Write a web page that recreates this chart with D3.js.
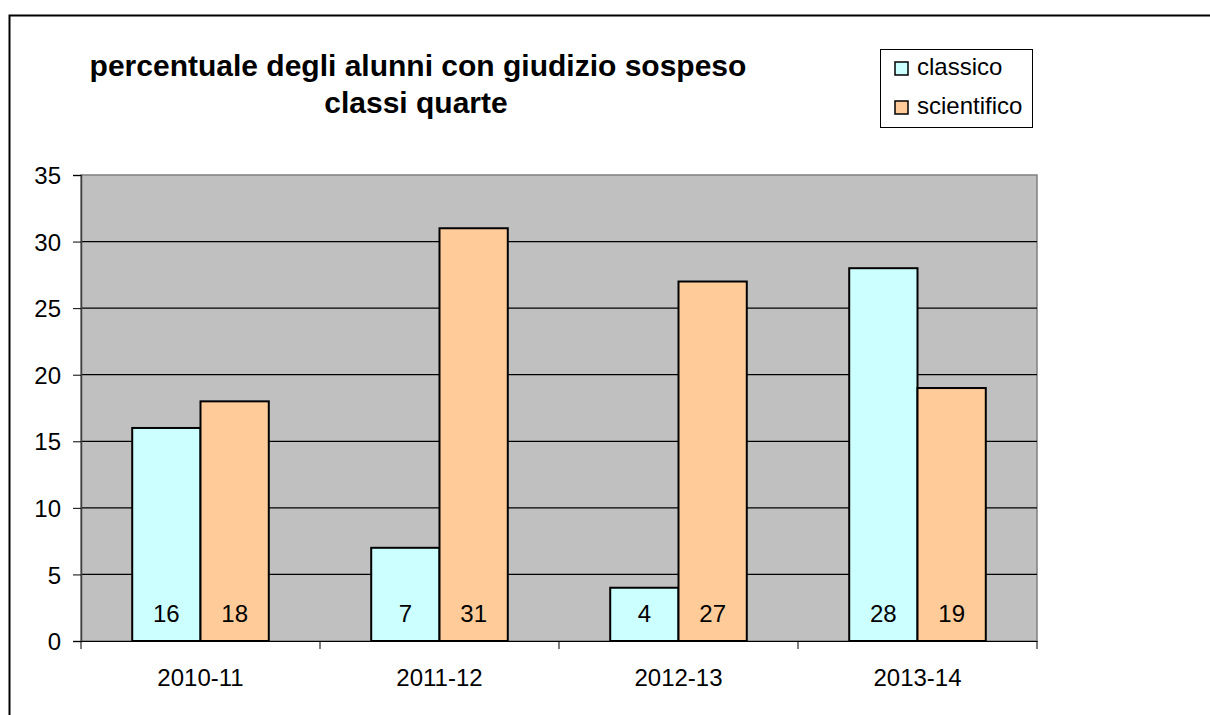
<!DOCTYPE html>
<html lang="it">
<head>
    <meta charset="UTF-8">
    <title>percentuale degli alunni con giudizio sospeso</title>
    <style>
        body {
            margin: 0;
            overflow: hidden;
            background: white;
            font-family: Arial, 'Liberation Sans', sans-serif;
        }
    </style>
    <script src="https://d3js.org/d3.v7.min.js"></script>
</head>
<body>
    <div id="chart"></div>
    <script>
        const anni = ["2010-11", "2011-12", "2012-13", "2013-14"];
        const serie = ["classico", "scientifico"];
        const classico = [16, 7, 4, 28];
        const scientifico = [18, 31, 27, 19];
        const yTicks = [0, 5, 10, 15, 20, 25, 30, 35];
        const colori = ["#CCFFFF", "#FFCC99"];

        const width = 1210, height = 715;
        const plot = { left: 81, top: 175, right: 1037, bottom: 641 };
        const font = "Arial, 'Liberation Sans', sans-serif";

        const svg = d3.select("#chart")
            .append("svg")
            .attr("width", width)
            .attr("height", height);

        // cornice esterna
        svg.append("rect")
            .attr("x", 9.5).attr("y", 15.5)
            .attr("width", 1300).attr("height", 800)
            .attr("fill", "white")
            .attr("stroke", "black")
            .attr("stroke-width", 2);

        const x = d3.scaleBand()
            .domain(anni)
            .range([plot.left, plot.right]);

        const xInner = d3.scaleBand()
            .domain(serie)
            .range([0, x.bandwidth()])
            .paddingOuter(0.75)
            .paddingInner(0);

        const y = d3.scaleLinear()
            .domain([0, 35])
            .range([plot.bottom, plot.top]);

        // area del grafico
        svg.append("rect")
            .attr("x", plot.left).attr("y", plot.top)
            .attr("width", plot.right - plot.left)
            .attr("height", plot.bottom - plot.top)
            .attr("fill", "#C0C0C0")
            .attr("stroke", "#808080")
            .attr("stroke-width", 1.5);

        // griglia
        svg.selectAll(".griglia")
            .data(yTicks.filter(d => d > 0 && d < 35))
            .enter().append("line")
            .attr("class", "griglia")
            .attr("x1", plot.left).attr("x2", plot.right)
            .attr("y1", d => y(d)).attr("y2", d => y(d))
            .attr("stroke", "black")
            .attr("stroke-width", 1.2);

        // asse y
        const yAxis = svg.append("g")
            .attr("transform", `translate(${plot.left},0)`)
            .call(d3.axisLeft(y).tickValues(yTicks).tickSize(8).tickPadding(12).tickFormat(d3.format("d")));
        yAxis.attr("font-size", null).attr("font-family", null);
        yAxis.select(".domain").attr("stroke", "#404040").attr("stroke-width", 1.5);
        yAxis.selectAll(".tick line").attr("stroke", "black");
        yAxis.selectAll("text")
            .style("font-size", "24px")
            .style("font-family", font)
            .attr("dy", "0.36em")
            .attr("fill", "black");

        // asse x
        const xAxis = svg.append("g")
            .attr("transform", `translate(0,${plot.bottom})`)
            .call(d3.axisBottom(x).tickSize(0).tickPadding(28));
        xAxis.attr("font-size", null).attr("font-family", null);
        xAxis.select(".domain").attr("stroke", "black").attr("stroke-width", 1.2);
        xAxis.selectAll("text")
            .style("font-size", "24px")
            .style("font-family", font)
            .attr("fill", "black");

        // tacche tra le categorie
        const bordi = anni.map(d => x(d)).concat([x(anni[anni.length - 1]) + x.bandwidth()]);
        svg.selectAll(".tacca")
            .data(bordi)
            .enter().append("line")
            .attr("class", "tacca")
            .attr("x1", d => d).attr("x2", d => d)
            .attr("y1", plot.bottom).attr("y2", plot.bottom + 8)
            .attr("stroke", "black");

        const dati = anni.map((a, i) => ({
            anno: a,
            valori: [
                { serie: "classico", valore: classico[i], colore: colori[0] },
                { serie: "scientifico", valore: scientifico[i], colore: colori[1] }
            ]
        }));

        const gruppi = svg.selectAll(".gruppo")
            .data(dati)
            .enter().append("g")
            .attr("class", "gruppo")
            .attr("transform", d => `translate(${x(d.anno)},0)`);

        gruppi.selectAll("rect")
            .data(d => d.valori)
            .enter().append("rect")
            .attr("x", d => xInner(d.serie))
            .attr("y", d => y(d.valore))
            .attr("width", xInner.bandwidth())
            .attr("height", d => plot.bottom - y(d.valore))
            .attr("fill", d => d.colore)
            .attr("stroke", "black")
            .attr("stroke-width", 2);

        gruppi.selectAll(".etichetta")
            .data(d => d.valori)
            .enter().append("text")
            .attr("class", "etichetta")
            .attr("x", d => xInner(d.serie) + xInner.bandwidth() / 2)
            .attr("y", 622)
            .attr("text-anchor", "middle")
            .style("font-size", "24px")
            .attr("fill", "black")
            .text(d => d.valore);

        // titolo
        const titolo = svg.append("text")
            .attr("text-anchor", "middle")
            .style("font-size", "30px")
            .attr("font-weight", "bold")
            .attr("fill", "black");
        titolo.append("tspan").attr("x", 418).attr("y", 76)
            .text("percentuale degli alunni con giudizio sospeso");
        titolo.append("tspan").attr("x", 416).attr("y", 113)
            .text("classi quarte");

        // legenda
        const legenda = svg.append("g");
        legenda.append("rect")
            .attr("x", 880.5).attr("y", 49.5)
            .attr("width", 152).attr("height", 78)
            .attr("fill", "white")
            .attr("stroke", "black")
            .attr("stroke-width", 1);

        const voci = legenda.selectAll(".voce")
            .data(serie)
            .enter().append("g")
            .attr("class", "voce")
            .attr("transform", (d, i) => `translate(895,${62 + i * 39})`);
        voci.append("rect")
            .attr("width", 13).attr("height", 13)
            .attr("fill", (d, i) => colori[i])
            .attr("stroke", "black")
            .attr("stroke-width", 1.5);
        voci.append("text")
            .attr("x", 22).attr("y", 13)
            .style("font-size", "24px")
            .attr("fill", "black")
            .text(d => d);
    </script>
</body>
</html>
